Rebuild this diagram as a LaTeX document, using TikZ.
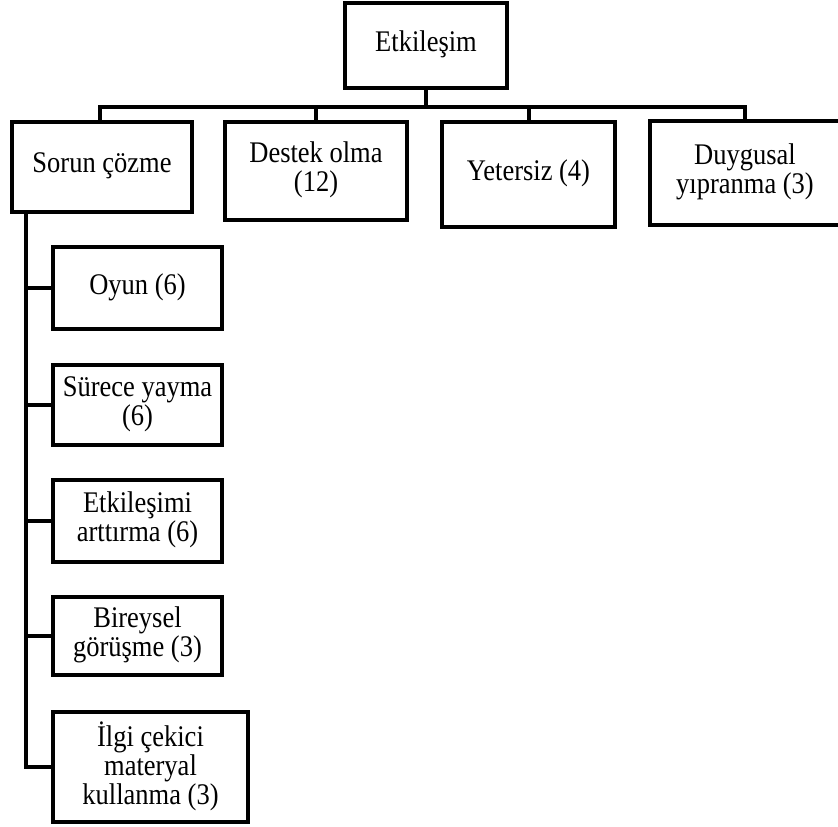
\documentclass[tikz,border=0pt]{standalone}
\usepackage{fontspec}
\usepackage{graphicx}
\setmainfont{Liberation Serif}
\newcommand{\boxtext}[1]{\scalebox{1}[1.13]{\begin{tabular}{@{}c@{}}#1\end{tabular}}}
\begin{document}
\begin{tikzpicture}[x=1pt,y=-1pt,
  box/.style={draw=black,line width=4.8pt,fill=white,rectangle,inner sep=0pt,align=center,
    font=\fontsize{26.5}{23.8}\selectfont},
  conn/.style={draw=black,line width=4pt}]
\clip (0,0) rectangle (838,827);
\fill[white] (0,0) rectangle (838,827);
% nodes
\node[box,minimum width=162pt,minimum height=85pt] (top) at (426,45.5) {\boxtext{Etkileşim}};
\node[box,minimum width=180pt,minimum height=90pt] (sorun) at (102,167) {\boxtext{Sorun çözme}};
\node[box,minimum width=182pt,minimum height=98pt] (destek) at (316,171) {\boxtext{Destek olma\\(12)}};
\node[box,minimum width=173pt,minimum height=105pt] (yeter) at (528.5,174.5) {\boxtext{Yetersiz (4)}};
\node[box,minimum width=190pt,minimum height=104pt] (duyg) at (745,173) {\boxtext{Duygusal\\yıpranma (3)}};
\node[box,minimum width=169pt,minimum height=82pt] (oyun) at (137.5,288) {\boxtext{Oyun (6)}};
\node[box,minimum width=169pt,minimum height=80pt] (surec) at (137.5,405) {\boxtext{Sürece yayma\\(6)}};
\node[box,minimum width=169pt,minimum height=82pt] (etk) at (137.5,521) {\boxtext{Etkileşimi\\arttırma (6)}};
\node[box,minimum width=169pt,minimum height=78pt] (birey) at (137.5,636) {\boxtext{Bireysel\\görüşme (3)}};
\node[box,minimum width=195pt,minimum height=110pt] (ilgi) at (150.5,767) {\boxtext{İlgi çekici\\materyal\\kullanma (3)}};
% top-level connectors
\draw[conn] (top.south) -- ++(0,17) coordinate (bus);
\draw[conn] ([xshift=-2pt]sorun.north) |- (bus) -| (duyg.north);
\draw[conn] (destek.north) -- (destek.north |- bus);
\draw[conn] (yeter.north) -- (yeter.north |- bus);
% left spine
\coordinate (spine) at ([xshift=16pt]sorun.south west);
\draw[conn] (spine) |- (ilgi.west);
\draw[conn] (oyun.west) -- (oyun.west -| spine);
\draw[conn] (surec.west) -- (surec.west -| spine);
\draw[conn] (etk.west) -- (etk.west -| spine);
\draw[conn] (birey.west) -- (birey.west -| spine);
\end{tikzpicture}
\end{document}
